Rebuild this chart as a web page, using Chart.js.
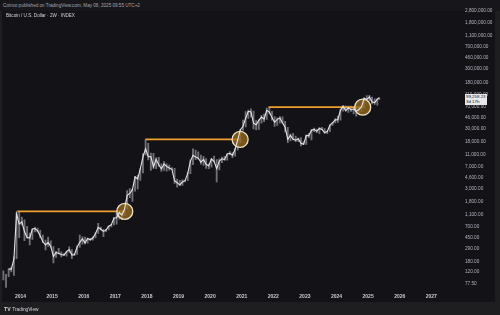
<!DOCTYPE html>
<html>
<head>
<meta charset="utf-8">
<script src="https://cdn.jsdelivr.net/npm/chart.js@4.4.1/dist/chart.umd.min.js"></script>
<style>
  body { margin: 0; background: #1e1e21; font-family: "Liberation Sans", Arial, sans-serif; }
  #wrap { position: relative; width: 500px; height: 315px; overflow: hidden; background: #1e1e21; }
  #header { position: absolute; left: 0; top: 0; width: 500px; height: 11px; background: #17171b; }
  #panel { position: absolute; left: 2px; top: 11px; width: 493px; height: 291px; background: #131217; }
  .txt { position: absolute; white-space: nowrap; }
  #published { left: 3px; top: 2.5px; font-size: 4.6px; color: #a3a6af; }
  #title { left: 6px; top: 13px; font-size: 4.6px; color: #d1d4dc; }
  #priceBox { position: absolute; left: 465px; width: 22px; height: 11px; background: #e9e9ec; color: #131722; font-size: 4.4px; line-height: 5.2px; padding-left: 1px; box-sizing: border-box; }
  #footer { left: 4px; top: 306px; font-size: 4.8px; color: #d1d4dc; }
  #footer b { font-size: 5.2px; margin-right: 1.5px; }
  canvas { position: absolute; left: 0; top: 0; }
</style>
</head>
<body>
<div id="wrap">
  <div id="header"></div>
  <div id="panel"></div>
  <div class="txt" id="published">Coinvo published on TradingView.com, May 08, 2025 09:55 UTC+2</div>
  <canvas id="btcChart" width="500" height="315"></canvas>
  <div class="txt" id="title">Bitcoin / U.S. Dollar · 2W · INDEX</div>
  <div id="priceBox"><div>99,258.23</div><div>3d 17h</div></div>
  <div class="txt" id="footer"><b>TV</b>TradingView</div>
</div>
<script>
// Mēneši (YYYY-MM), noslēguma cena, maksimums, minimums
const months = [
  '2013-06','2013-07','2013-08','2013-09','2013-10','2013-11','2013-12',
  '2014-01','2014-02','2014-03','2014-04','2014-05','2014-06','2014-07','2014-08','2014-09','2014-10','2014-11','2014-12',
  '2015-01','2015-02','2015-03','2015-04','2015-05','2015-06','2015-07','2015-08','2015-09','2015-10','2015-11','2015-12',
  '2016-01','2016-02','2016-03','2016-04','2016-05','2016-06','2016-07','2016-08','2016-09','2016-10','2016-11','2016-12',
  '2017-01','2017-02','2017-03','2017-04','2017-05','2017-06','2017-07','2017-08','2017-09','2017-10','2017-11','2017-12',
  '2018-01','2018-02','2018-03','2018-04','2018-05','2018-06','2018-07','2018-08','2018-09','2018-10','2018-11','2018-12',
  '2019-01','2019-02','2019-03','2019-04','2019-05','2019-06','2019-07','2019-08','2019-09','2019-10','2019-11','2019-12',
  '2020-01','2020-02','2020-03','2020-04','2020-05','2020-06','2020-07','2020-08','2020-09','2020-10','2020-11','2020-12',
  '2021-01','2021-02','2021-03','2021-04','2021-05','2021-06','2021-07','2021-08','2021-09','2021-10','2021-11','2021-12',
  '2022-01','2022-02','2022-03','2022-04','2022-05','2022-06','2022-07','2022-08','2022-09','2022-10','2022-11','2022-12',
  '2023-01','2023-02','2023-03','2023-04','2023-05','2023-06','2023-07','2023-08','2023-09','2023-10','2023-11','2023-12',
  '2024-01','2024-02','2024-03','2024-04','2024-05','2024-06','2024-07','2024-08','2024-09','2024-10','2024-11','2024-12',
  '2025-01','2025-02','2025-03','2025-04','2025-05'
];
const closes = [
  97, 106, 135, 133, 198, 1130, 760,
  830, 570, 455, 445, 630, 640, 585, 480, 385, 340, 375, 320,
  218, 254, 245, 235, 230, 263, 284, 230, 236, 314, 377, 430,
  368, 437, 416, 448, 531, 673, 624, 573, 609, 700, 745, 964,
  970, 1190, 1080, 1350, 2300, 2480, 2870, 4730, 4340, 6470, 10200, 13900,
  10200, 10300, 6930, 9240, 7500, 6390, 7730, 7030, 6630, 6300, 4040, 3740,
  3460, 3850, 4100, 5330, 8570, 10800, 10100, 9630, 8300, 9200, 7570, 7200,
  9350, 8550, 6440, 8650, 9450, 9140, 11350, 11650, 10780, 13800, 19700, 29000,
  33100, 45200, 58900, 57700, 37300, 35000, 41500, 47100, 43800, 61300, 57000, 46200,
  38500, 43200, 45500, 37700, 31800, 19900, 23300, 20000, 19400, 20500, 17200, 16500,
  23100, 23100, 28500, 29300, 27200, 30500, 29200, 26000, 27000, 34500, 37700, 42300,
  42600, 61200, 71300, 60700, 67500, 62700, 64600, 59000, 63300, 70200, 96400, 93400,
  102400, 84300, 82500, 94200, 99258
];
const highs = [
  125, 110, 135, 145, 215, 1200, 1240,
  1000, 900, 700, 540, 630, 680, 650, 600, 500, 410, 460, 400,
  320, 265, 300, 260, 245, 268, 315, 285, 245, 330, 500, 465,
  460, 445, 440, 465, 550, 780, 680, 620, 620, 705, 755, 975,
  1150, 1200, 1290, 1350, 2760, 3000, 2920, 4750, 5000, 6470, 11500, 19700,
  17200, 11800, 11700, 9760, 9990, 7750, 8500, 7760, 7400, 6750, 6550, 4300,
  4100, 4200, 4130, 5600, 9100, 13800, 13200, 12300, 10900, 10400, 9500, 7750,
  9600, 10500, 9200, 9450, 10050, 10400, 11450, 12450, 12050, 14100, 19900, 29300,
  41900, 58300, 61800, 64800, 59500, 41300, 42300, 50500, 52900, 67000, 69000, 59000,
  47900, 45800, 48200, 47400, 40000, 31900, 24600, 25200, 22700, 21000, 21400, 18400,
  23900, 25200, 29200, 31000, 29800, 31400, 31800, 30200, 27500, 35000, 38400, 44700,
  48900, 64000, 73800, 72800, 71900, 72000, 70000, 65600, 66500, 73600, 99600, 108300,
  109300, 102500, 95000, 95800, 99300
];
const lows = [
  88, 66, 100, 120, 105, 200, 450,
  740, 400, 440, 340, 420, 560, 570, 450, 370, 280, 320, 310,
  170, 210, 240, 215, 228, 220, 255, 200, 225, 235, 310, 350,
  355, 365, 405, 410, 445, 530, 600, 470, 570, 605, 680, 740,
  760, 920, 900, 1050, 1350, 2100, 1830, 2700, 2950, 4100, 5500, 10900,
  9000, 6000, 6500, 6450, 7050, 5780, 6000, 5880, 6100, 6200, 3650, 3150,
  3350, 3380, 3850, 4050, 5300, 7500, 9100, 9350, 7700, 7300, 6500, 6430,
  6850, 8450, 3850, 6150, 8100, 8900, 8990, 10950, 9900, 10400, 13200, 17600,
  28100, 32300, 45000, 47000, 30000, 28800, 29300, 37300, 39600, 43300, 53300, 42000,
  32900, 34300, 37200, 37600, 26700, 17600, 18800, 19600, 18200, 18200, 15500, 16300,
  16500, 21400, 19600, 26900, 25800, 24800, 29000, 25200, 24900, 26900, 34100, 37600,
  38500, 41900, 59000, 59200, 56600, 58500, 53500, 49000, 52600, 58900, 66800, 90500,
  89200, 78200, 76600, 74500, 93400
];

// Iepriekšējie maksimumi (ATH) un to pārrāvuma datumi
const athDates = [2013.90, 2017.95, 2021.85];
const athValues = [1240, 19900, 69000];
const breakoutDates = [2017.30, 2020.95, 2024.83];

const yearTicks = [2014, 2015, 2016, 2017, 2018, 2019, 2020, 2021, 2022, 2023, 2024, 2025, 2026, 2027];
const priceTicks = [77.5, 120, 180, 290, 450, 700, 1100, 1800, 3000, 4600, 7000, 11000, 18000, 30000,
  46000, 70000, 110000, 180000, 300000, 460000, 700000, 1100000, 1800000, 2800000];
const lastPrice = 99258.23;

// Mēneša virkne -> gads ar daļu (mēneša vidus; pēdējais mēnesis - 8. maijs)
const monthX = months.map((m, i) => {
  const [y, mo] = m.split('-').map(Number);
  const frac = i === months.length - 1 ? (mo - 1 + 0.25) / 12 : (mo - 0.5) / 12;
  return y + frac;
});

const closePoints = monthX.map((x, i) => ({ x: x, y: closes[i] }));
const rangeBars = monthX.map((x, i) => ({ x: x, y: [lows[i], highs[i]] }));

// Ļauj sērijai sākties pa kreisi no zīmēšanas laukuma malas
const leftClip = { left: 12, top: 0, right: 0, bottom: 0 };

const athDatasets = athDates.map((d, i) => ({
  type: 'line',
  data: [{ x: d, y: athValues[i] }, { x: breakoutDates[i], y: athValues[i] }],
  borderColor: '#f0a030',
  borderWidth: 1.8,
  pointRadius: 0,
  order: 3
}));

const fmt = new Intl.NumberFormat('en-US', { minimumFractionDigits: 2, maximumFractionDigits: 2 });

const ctx = document.getElementById('btcChart').getContext('2d');
const chart = new Chart(ctx, {
  data: {
    datasets: [
      {
        type: 'bar',
        data: rangeBars,
        backgroundColor: 'rgba(190, 192, 198, 0.55)',
        barThickness: 1.2,
        clip: leftClip,
        order: 4
      },
      ...athDatasets,
      {
        type: 'line',
        data: breakoutDates.map((d, i) => ({ x: d, y: athValues[i] })),
        showLine: false,
        pointRadius: 8,
        pointBackgroundColor: 'rgba(150, 106, 30, 0.78)',
        pointBorderColor: '#eee3c6',
        pointBorderWidth: 1.3,
        order: 2
      },
      {
        type: 'line',
        data: closePoints,
        borderColor: '#e4e4e8',
        borderWidth: 1.1,
        pointRadius: 0,
        tension: 0,
        clip: leftClip,
        order: 0
      }
    ]
  },
  options: {
    responsive: false,
    devicePixelRatio: 1,
    animation: false,
    layout: { padding: { top: 12, left: 2 } },
    plugins: {
      legend: { display: false },
      tooltip: { enabled: false },
      title: { display: false }
    },
    scales: {
      x: {
        type: 'linear',
        position: 'bottom',
        offset: false,
        min: 2013.415,
        max: 2027.97,
        grid: { display: false, drawTicks: false, offset: false },
        border: { display: false },
        afterBuildTicks: scale => { scale.ticks = yearTicks.map(v => ({ value: v })); },
        afterFit: scale => { scale.height = 24; },
        ticks: {
          padding: 3,
          color: '#c9cbd1',
          font: { size: 5, weight: 'bold', family: '"Liberation Sans", Arial, sans-serif' },
          maxRotation: 0,
          autoSkip: false,
          callback: v => String(v)
        }
      },
      y: {
        type: 'logarithmic',
        position: 'right',
        min: 57.6,
        max: 2715000,
        grid: { display: false, drawTicks: false },
        border: { display: false },
        afterBuildTicks: scale => { scale.ticks = priceTicks.map(v => ({ value: v })); },
        afterFit: scale => { scale.width = 38; },
        ticks: {
          crossAlign: 'near',
          padding: 3,
          color: '#b2b5be',
          font: { size: 4.7, family: '"Liberation Sans", Arial, sans-serif' },
          autoSkip: false,
          callback: v => fmt.format(v)
        }
      }
    }
  }
});

// Laika ass mērogs: 2014. gads pie 20.5 px, 31.6 px gadā (kā oriģinālā)
const pxPerYear = 31.6;
const x2014 = 20.5;
for (let k = 0; k < 2; k++) {
  const area = chart.chartArea;
  chart.options.scales.x.min = 2014 - (x2014 - area.left) / pxPerYear;
  chart.options.scales.x.max = 2014 + (area.right - x2014) / pxPerYear;
  chart.update();
}

// Pēdējās cenas etiķete pie y ass
const priceY = chart.scales.y.getPixelForValue(lastPrice);
document.getElementById('priceBox').style.top = (priceY - 3.5) + 'px';
</script>
</body>
</html>
